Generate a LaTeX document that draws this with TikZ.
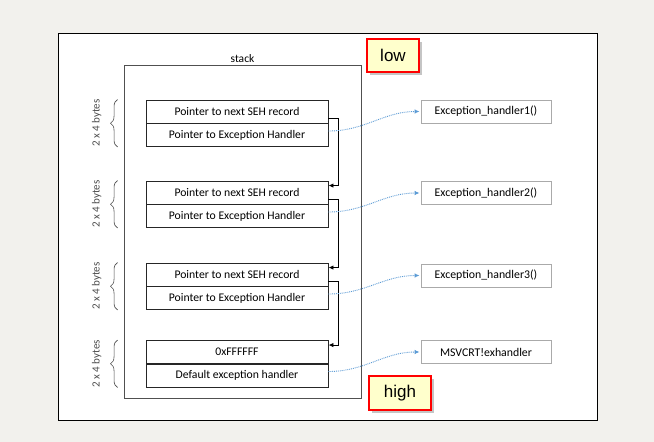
\documentclass[tikz,border=0pt]{standalone}
\usepackage{fontspec}
\setmainfont{Carlito}
\newfontfamily\notefont{Liberation Sans}
\usetikzlibrary{positioning,arrows.meta,decorations.pathreplacing,shadows}

\definecolor{pagegray}{RGB}{242,241,237}
\definecolor{stackgray}{RGB}{80,80,80}
\definecolor{handlergray}{RGB}{170,170,170}
\definecolor{linkblue}{RGB}{91,155,213}
\definecolor{notefill}{RGB}{255,255,204}

\tikzset{
  cell/.style={draw=black!85,line width=0.9pt,minimum width=182pt,minimum height=23pt,
    inner sep=0pt,font=\fontsize{11.7}{13}\selectfont},
  handler/.style={draw=handlergray,line width=0.9pt,minimum width=130pt,minimum height=23pt,
    inner sep=0pt,font=\fontsize{11.8}{13}\selectfont},
  note/.style={draw=red,line width=2pt,fill=notefill,inner sep=0pt,
    drop shadow={shadow xshift=3pt,shadow yshift=-3pt,fill=black!45},
    font=\notefont\fontsize{17}{20}\selectfont},
  nextlink/.style={-{Latex[length=5pt,width=4.5pt]},line width=0.9pt},
  handlerlink/.style={-{Latex[length=5pt,width=4.5pt]},linkblue,densely dotted,line width=0.9pt,shorten >=1pt},
  bytes/.style={decorate,decoration={brace,amplitude=7pt},line width=0.6pt,black!70},
}

\begin{document}
\begin{tikzpicture}[x=1pt,y=-1pt]
  \useasboundingbox (0,0) rectangle (654,442);
  \fill[pagegray] (0,0) rectangle (654,442);
  \draw[fill=white,line width=1pt] (58,33) rectangle (597,420);

  % the stack
  \node[draw=stackgray,line width=1pt,minimum width=237pt,minimum height=333pt,
    label={[font=\fontsize{11.5}{13}\selectfont,inner sep=2pt]above:stack}] (stack) at (242.5,231.5) {};

  % SEH records
  \node[cell] (seh1) at (237,111.5) {Pointer to next SEH record};
  \node[cell] (fn1) at (237,135) {Pointer to Exception Handler};
  \node[cell] (seh2) at (237,192.5) {Pointer to next SEH record};
  \node[cell] (fn2) at (237,216) {Pointer to Exception Handler};
  \node[cell] (seh3) at (237,274.5) {Pointer to next SEH record};
  \node[cell] (fn3) at (237,298) {Pointer to Exception Handler};
  \node[cell] (seh4) at (237,352) {0xFFFFFF};
  \node[cell] (fn4) at (237,375.5) {Default exception handler};

  % handlers
  \node[handler] (h1) at (486,111.5) {Exception\_handler1()};
  \node[handler] (h2) at (486,193) {Exception\_handler2()};
  \node[handler] (h3) at (486,275.5) {Exception\_handler3()};
  \node[handler] (h4) at (486,352) {MSVCRT!exhandler};

  % low / high
  \node[note,minimum width=52pt,minimum height=33pt] (low) at (393,55.5) {low};
  \node[note,minimum width=62pt,minimum height=34pt] (high) at (400,393) {high};

  % chain of records
  \draw[nextlink] ([yshift=5pt]seh1.south east) -- ++(10,0) |- ([yshift=-5pt]seh2.north east);
  \draw[nextlink] ([yshift=5pt]seh2.south east) -- ++(10,0) |- ([yshift=-5pt]seh3.north east);
  \draw[nextlink] ([yshift=5pt]seh3.south east) -- ++(10,0) |- ([yshift=-5pt]seh4.north east);

  % handler pointers
  \foreach \i in {1,...,4}{
    \draw[handlerlink] ([yshift=4pt]fn\i.east) to[out=0,in=180] (h\i.west);
    \draw[bytes] ([xshift=-28pt]fn\i.south west) -- ([xshift=-28pt]seh\i.north west)
      node[midway,xshift=-12.5pt,rotate=90,anchor=south,font=\fontsize{11}{13}\selectfont] {2 x 4 bytes};
  }
\end{tikzpicture}
\end{document}
